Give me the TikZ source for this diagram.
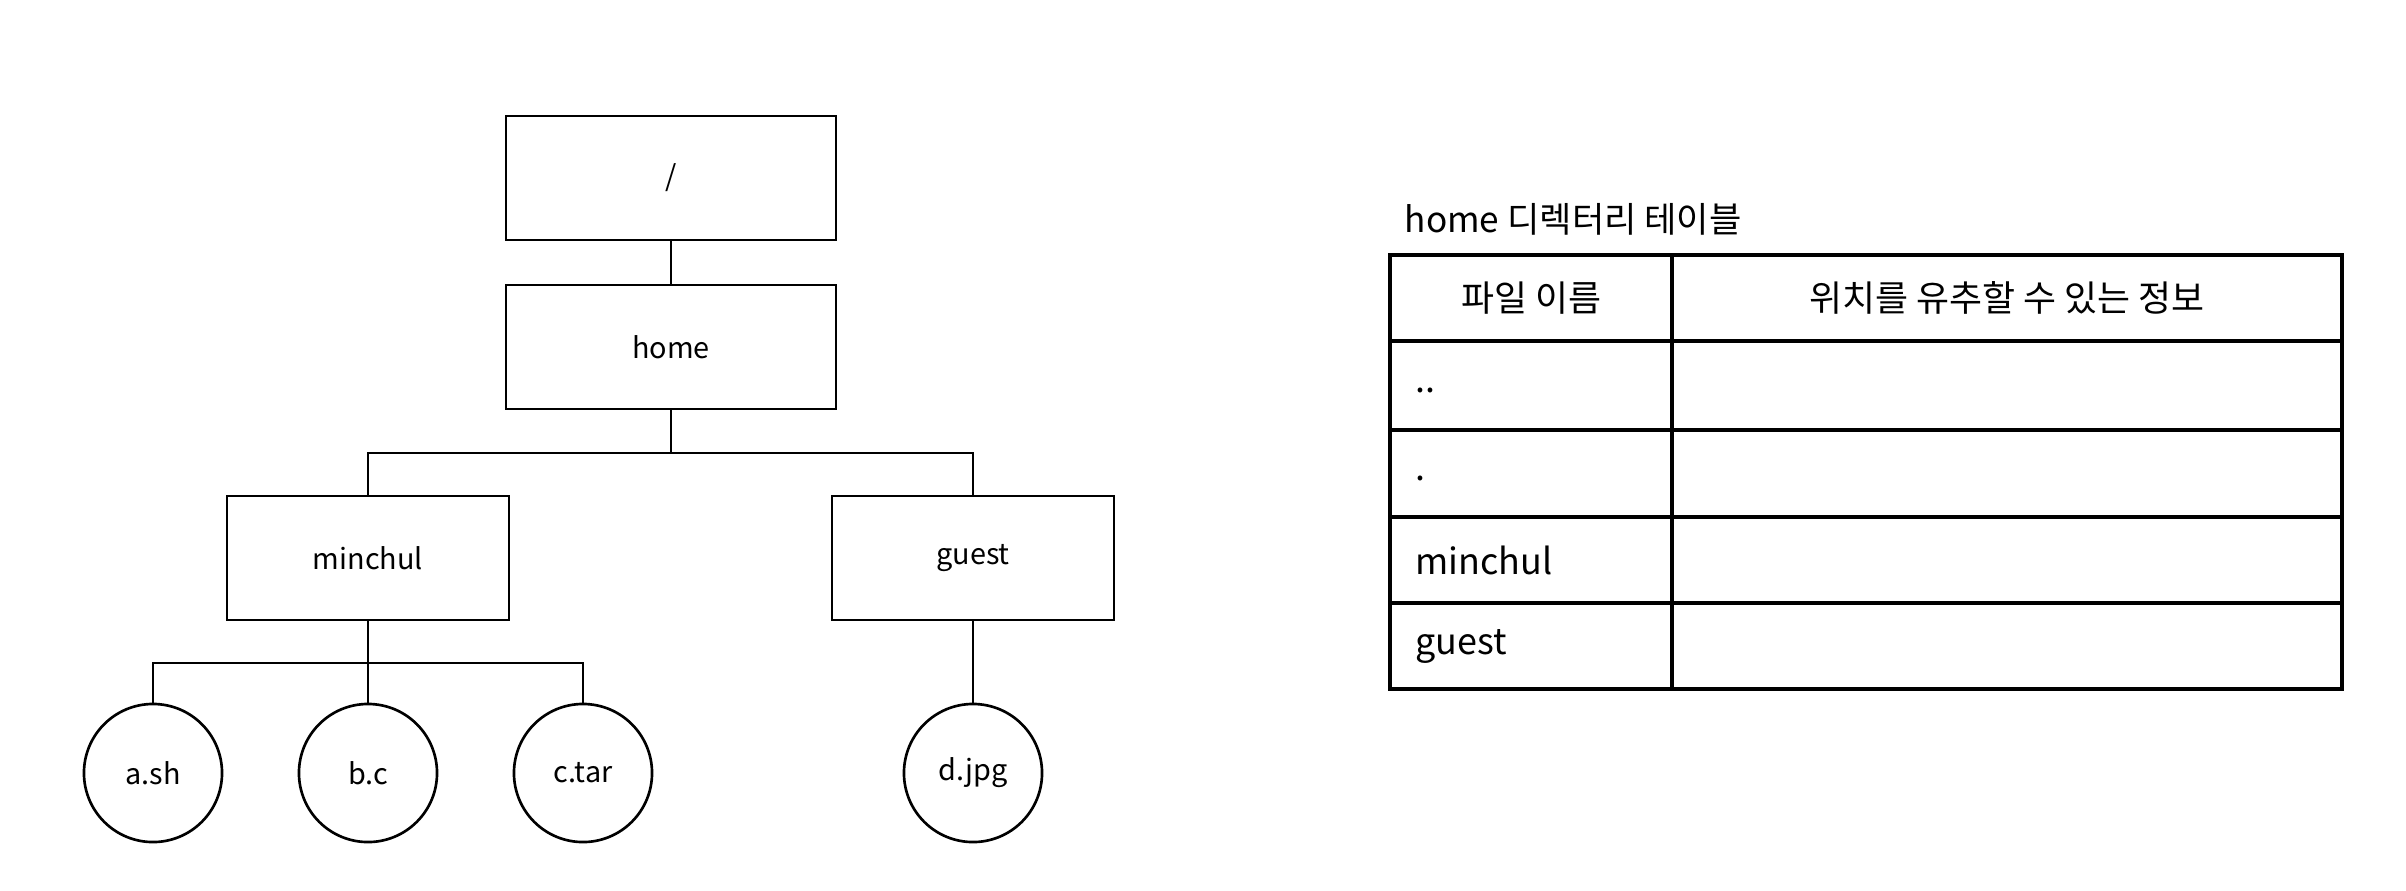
\documentclass[tikz,border=0pt]{standalone}
\usepackage{fontspec}
\setmainfont{Noto Sans CJK KR}
\begin{document}
\begin{tikzpicture}[x=0.01cm, y=0.01cm]
    \tikzstyle{every node}+=[inner sep=0pt]
    \tikzstyle{dirbox}=[draw=black, line width=0.75pt, minimum width=3.3cm, minimum height=1.24cm, font=\fontsize{8.2}{10}\selectfont]
    \tikzstyle{filecirc}=[draw=black, circle, line width=0.75pt, minimum size=1.38cm, font=\fontsize{8.2}{10}\selectfont]
    \tikzstyle{link}=[black, line width=0.75pt]
    \tikzstyle{cell}=[font=\fontsize{10.2}{12}\selectfont]
    \useasboundingbox (0,0) rectangle (2406,-890);
    % directory tree
    \node [dirbox] (root) at (671,-178) {/};
    \node [dirbox] (home) at (671,-347) {home};
    \node [dirbox, minimum width=2.82cm] (minchul) at (368,-558) {minchul};
    \node [dirbox, minimum width=2.82cm] (guest) at (973,-558) {guest};
    \node [filecirc] (ash) at (153,-773) {a.sh};
    \node [filecirc] (bc) at (368,-773) {b.c};
    \node [filecirc] (ctar) at (583,-773) {c.tar};
    \node [filecirc] (djpg) at (973,-773) {d.jpg};
    \coordinate (hbar) at (671,-453);
    \coordinate (mbar) at (368,-663);
    \draw [link] (root) -- (home);
    \draw [link] (home.south) -- (hbar) -| (minchul.north);
    \draw [link] (hbar) -| (guest.north);
    \draw [link] (minchul.south) -- (mbar) -| (ash.north);
    \draw [link] (mbar) -| (ctar.north);
    \draw [link] (mbar) -- (bc.north);
    \draw [link] (guest) -- (djpg);
    % home directory table
    \node [anchor=west, font=\fontsize{10}{12}\selectfont] (ttitle) at (1404,-219) {home 디렉터리 테이블};
    \draw [black, line width=1.1pt] (1390,-255) rectangle (2342,-689);
    \foreach \y in {-341,-430,-517,-603}
        \draw [black, line width=1.1pt] (1390,\y) -- (2342,\y);
    \draw [black, line width=1.1pt] (1672,-255) -- (1672,-689);
    \node [cell] (hname) at (1531,-298) {파일 이름};
    \node [cell] (hinfo) at (2007,-298) {위치를 유추할 수 있는 정보};
    \node [cell, anchor=west] (rparent) at (1415,-390) {..};
    \node [cell, anchor=west] (rself) at (1415,-478) {.};
    \node [cell, anchor=west] (rminchul) at (1415,-560) {minchul};
    \node [cell, anchor=west] (rguest) at (1415,-646) {guest};
\end{tikzpicture}
\end{document}
